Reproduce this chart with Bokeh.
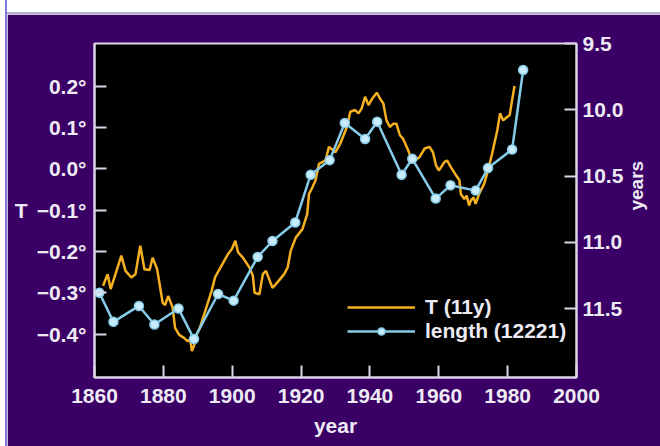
import math
from bokeh.plotting import figure
from bokeh.models import (Range1d, LinearAxis, FixedTicker, CustomJSTickFormatter,
                          NumeralTickFormatter, Legend, LegendItem, Spacer, Axis)
from bokeh.layouts import column, row
from bokeh.embed import file_html
from bokeh.resources import INLINE

# ---- data ----
t_years = [1862.5, 1863.8, 1864.7, 1867.8, 1869.0, 1870.7, 1871.9, 1873.3, 1874.5, 1876.0,
           1876.9, 1878.2, 1879.8, 1880.5, 1881.4, 1882.7, 1883.4, 1884.6, 1886.0, 1887.0,
           1887.8, 1888.3, 1888.9, 1889.7, 1890.6, 1894.0, 1895.0, 1898.8, 1899.9, 1900.9,
           1901.7, 1903.1, 1905.0, 1906.0, 1906.5, 1907.9, 1908.9, 1909.8, 1911.7, 1912.7,
           1915.1, 1916.1, 1917.0, 1918.5, 1920.4, 1921.8, 1922.3, 1923.3, 1924.2, 1925.2,
           1927.1, 1928.1, 1930.0, 1931.4, 1933.3, 1934.3, 1935.7, 1936.7, 1937.6, 1938.6,
           1939.6, 1940.7, 1942.0, 1942.9, 1943.9, 1944.8, 1945.8, 1946.8, 1947.7, 1948.7,
           1949.6, 1951.1, 1952.0, 1953.0, 1954.4, 1955.9, 1957.3, 1958.3, 1959.2, 1960.0,
           1960.7, 1961.6, 1962.4, 1963.5, 1964.7, 1966.0, 1966.4, 1967.4, 1968.1, 1968.8,
           1969.3, 1970.1, 1970.7, 1971.7, 1973.2, 1974.3, 1975.5, 1977.0, 1977.8, 1978.7,
           1979.4, 1980.6, 1981.3, 1982.0]
t_vals = [-0.283, -0.255, -0.291, -0.210, -0.247, -0.263, -0.255, -0.186, -0.243, -0.245,
          -0.215, -0.243, -0.324, -0.330, -0.308, -0.336, -0.385, -0.402, -0.409, -0.417,
          -0.413, -0.441, -0.429, -0.401, -0.385, -0.296, -0.263, -0.206, -0.194, -0.174,
          -0.202, -0.215, -0.239, -0.259, -0.300, -0.304, -0.255, -0.247, -0.288, -0.279,
          -0.255, -0.239, -0.198, -0.166, -0.146, -0.109, -0.061, -0.045, -0.028, 0.012,
          0.020, 0.053, 0.040, 0.061, 0.101, 0.138, 0.142, 0.134, 0.146, 0.174,
          0.154, 0.170, 0.184, 0.170, 0.158, 0.117, 0.101, 0.109, 0.109, 0.081,
          0.073, 0.045, 0.024, 0.020, 0.028, 0.049, 0.053, 0.040, 0.008, -0.004,
          0.004, 0.016, 0.020, 0.004, -0.012, -0.028, -0.061, -0.073, -0.065, -0.089,
          -0.077, -0.069, -0.085, -0.061, -0.036, -0.004, 0.037, 0.093, 0.134, 0.117,
          0.122, 0.130, 0.166, 0.200]

len_years = [1861.4, 1865.5, 1872.9, 1877.4, 1884.4, 1888.9, 1895.9, 1900.4, 1907.4, 1911.7,
             1918.3, 1922.8, 1928.3, 1932.7, 1938.6, 1942.1, 1949.2, 1952.3, 1959.1, 1963.4,
             1970.7, 1974.3, 1981.3, 1984.5]
len_vals = [11.38, 11.60, 11.48, 11.62, 11.50, 11.73, 11.39, 11.44, 11.11, 10.99,
            10.85, 10.49, 10.38, 10.10, 10.22, 10.09, 10.49, 10.37, 10.67, 10.57,
            10.61, 10.44, 10.30, 9.70]

x_ticks = [1860, 1880, 1900, 1920, 1940, 1960, 1980, 2000]
t_ticks = [-0.4, -0.3, -0.2, -0.1, 0.0, 0.1, 0.2]
len_ticks = [9.5, 10.0, 10.5, 11.0, 11.5]

series_labels = ["T (11y)", "length (12221)"]
x_title, t_title, len_title = "year", "T", "years"

# ---- style ----
PURPLE = "#3a0066"
TXT = "#eeeaf4"
EDGE = "#dcd6e6"
ORANGE = "#f4b021"
BLUE = "#86cbe9"
BLUE_FILL = "#c8ecfa"
FONT = "'Liberation Sans Narrow', 'Liberation Sans', sans-serif"
FS = "21px"

HAS_ORIENT = "axis_label_orientation" in Axis.properties()

p = figure(width=653, height=432, x_range=Range1d(1860, 2000),
           y_range=Range1d(-0.505, 0.303),
           output_backend="svg", toolbar_location=None,
           background_fill_color="black", border_fill_color=PURPLE,
           min_border_left=87, min_border_right=81, min_border_top=29,
           min_border_bottom=69)
p.grid.visible = False
p.outline_line_color = EDGE
p.outline_line_width = 2
p.extra_y_ranges = {"len": Range1d(start=12.02, end=9.5)}

def style_axis(ax):
    ax.major_tick_in = 12
    ax.major_tick_out = 0
    ax.minor_tick_line_color = None
    ax.major_tick_line_color = EDGE
    ax.major_tick_line_width = 2
    ax.axis_line_color = EDGE
    ax.axis_line_width = 2
    ax.major_label_text_color = TXT
    ax.major_label_text_font = FONT
    ax.major_label_text_font_size = FS
    ax.major_label_text_font_style = "bold"
    ax.axis_label_text_color = TXT
    ax.axis_label_text_font = FONT
    ax.axis_label_text_font_size = FS
    ax.axis_label_text_font_style = "bold"

xa = p.xaxis[0]
xa.ticker = FixedTicker(ticks=x_ticks)
xa.axis_label = x_title
xa.major_label_standoff = 11
xa.axis_label_standoff = 8
style_axis(xa)

ya = p.yaxis[0]
ya.ticker = FixedTicker(ticks=t_ticks)
ya.major_label_standoff = 8
style_axis(ya)
if HAS_ORIENT:
    ya.formatter = CustomJSTickFormatter(
        code="return (tick < -1e-9 ? '\u2212' : '') + Math.abs(tick).toFixed(1) + '\u00b0';")
    ya.axis_label = t_title
    ya.axis_label_orientation = "horizontal"
    ya.axis_label_standoff = 6
else:
    ya.formatter = CustomJSTickFormatter(
        code="var s = (tick < -1e-9 ? '\u2212' : '') + Math.abs(tick).toFixed(1) + '\u00b0';"
             " return Math.abs(tick + 0.1) < 1e-6 ? 'T   ' + s : s;")

ra = LinearAxis(y_range_name="len", ticker=FixedTicker(ticks=len_ticks),
                formatter=NumeralTickFormatter(format="0.0"))
ra.major_label_standoff = 6
ra.axis_label = len_title
ra.axis_label_standoff = 10
style_axis(ra)
ra.axis_label_text_font_size = "19px"
ra.axis_label_text_align = "center"
if HAS_ORIENT:
    ra.axis_label_orientation = math.pi / 2
p.add_layout(ra, "right")

r_t = p.line(t_years, t_vals, line_color=ORANGE, line_width=2.5)
r_l = p.line(len_years, len_vals, y_range_name="len", line_color=BLUE, line_width=2.5)
r_s = p.scatter(len_years, len_vals, y_range_name="len", size=9,
                fill_color=BLUE_FILL, line_color=BLUE, line_width=1.5)

legend = Legend(items=[LegendItem(label=series_labels[0], renderers=[r_t]),
                       LegendItem(label=series_labels[1], renderers=[r_l, r_s])],
                location=(253, 34), padding=0, margin=0, spacing=0,
                glyph_width=68, glyph_height=18, label_height=18, label_standoff=10,
                background_fill_alpha=0, border_line_color=None,
                label_text_color=TXT, label_text_font=FONT,
                label_text_font_size=FS, label_text_font_style="bold")
p.add_layout(legend)

left_white = Spacer(width=5, height=446)
left_line = Spacer(width=2, height=446, styles={"background-color": "#7c78e0"})
top_white = Spacer(width=653, height=12)
top_line = Spacer(width=653, height=2, styles={"background-color": "#b4aec4"})
layout = row(left_white, left_line, column(top_white, top_line, p))
open("out.html", "w").write(file_html(layout, INLINE))
